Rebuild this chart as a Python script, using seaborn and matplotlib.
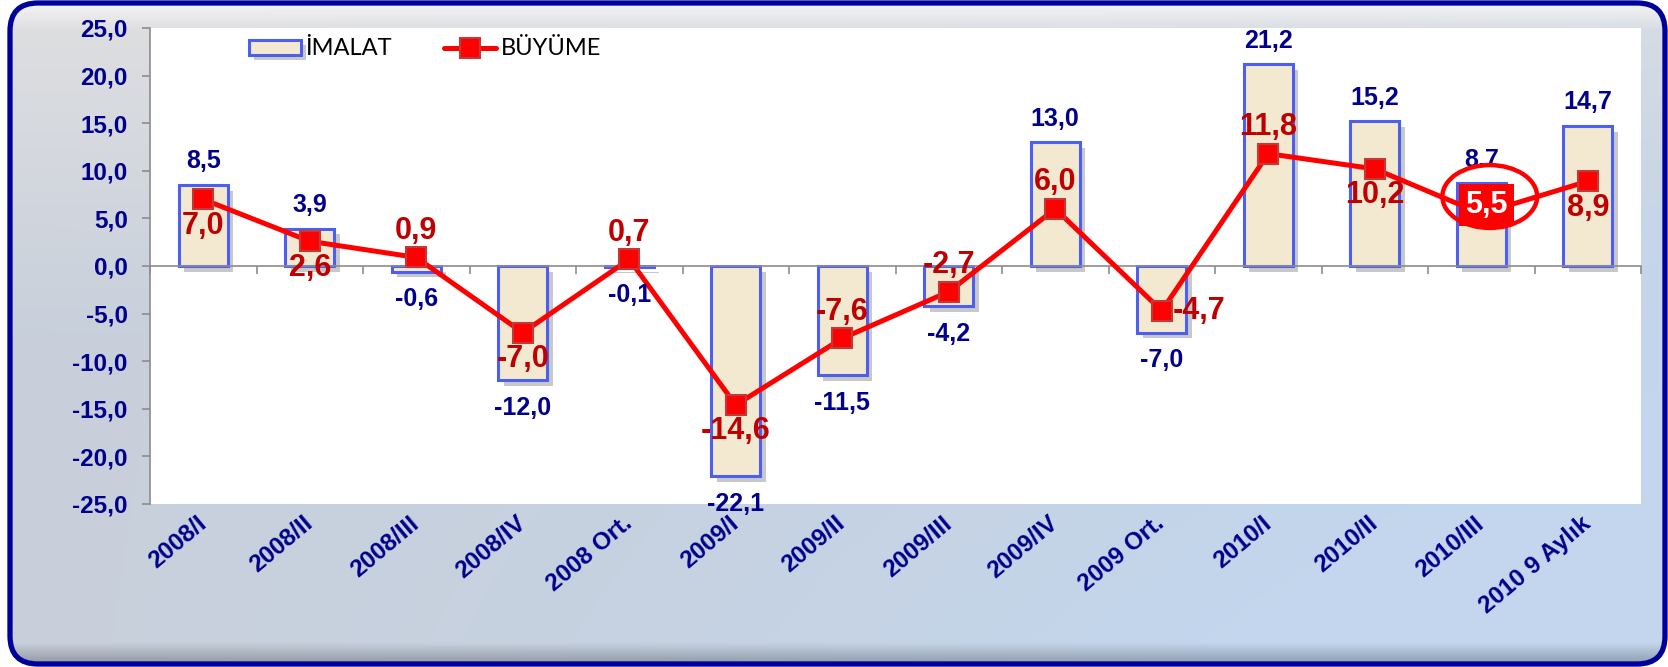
import numpy as np
import matplotlib
matplotlib.use("Agg")
import matplotlib.pyplot as plt
import seaborn as sns
from matplotlib.patches import FancyBboxPatch, Ellipse
from matplotlib import patheffects as pe
from matplotlib.font_manager import FontProperties

# ---------------- data ----------------
categories = ["2008/I", "2008/II", "2008/III", "2008/IV", "2008 Ort.", "2009/I",
              "2009/II", "2009/III", "2009/IV", "2009 Ort.", "2010/I", "2010/II",
              "2010/III", "2010 9 Aylık"]
imalat = [8.5, 3.9, -0.6, -12.0, -0.1, -22.1, -11.5, -4.2, 13.0, -7.0, 21.2, 15.2, 8.7, 14.7]
buyume = [7.0, 2.6, 0.9, -7.0, 0.7, -14.6, -7.6, -2.7, 6.0, -4.7, 11.8, 10.2, 5.5, 8.9]
imalat_labels = ["8,5", "3,9", "-0,6", "-12,0", "-0,1", "-22,1", "-11,5", "-4,2",
                 "13,0", "-7,0", "21,2", "15,2", "8.7", "14,7"]
buyume_labels = ["7,0", "2,6", "0,9", "-7,0", "0,7", "-14,6", "-7,6", "-2,7",
                 "6,0", "-4,7", "11,8", "10,2", "5,5", "8,9"]
yticks = [-25, -20, -15, -10, -5, 0, 5, 10, 15, 20, 25]
ytick_labels = ["-25,0", "-20,0", "-15,0", "-10,0", "-5,0", "0,0", "5,0",
                "10,0", "15,0", "20,0", "25,0"]
series_names = ["İMALAT", "BÜYÜME"]
highlight = "2010/III"

# ---------------- style ----------------
buyume_label_side = ["below", "below", "above", "below", "above", "below", "above",
                     "above", "above", "right", "above", "below", "center", "below"]
NAVY = "#00008c"
DARKRED = "#c00000"
RED = "#ff0000"
BAR_FILL = "#f3e9d1"
BAR_EDGE = "#4d5ff0"
GRAY = "#8c8c8c"

sns.set_theme(style="white")
plt.rcParams["font.family"] = ["Liberation Sans", "DejaVu Sans"]

W, H = 1668, 667
fig = plt.figure(figsize=(W / 100, H / 100), dpi=100)
fig.patch.set_facecolor("white")

# ---------------- background frame ----------------
bg = fig.add_axes([0, 0, 1, 1], zorder=-10)
bg.set_xlim(0, W)
bg.set_ylim(0, H)
bg.axis("off")
gh, gw = 300, 600
yy, xx = np.mgrid[0:1:gh * 1j, 0:1:gw * 1j]  # yy: 0 = top
c_top = np.array([0.875, 0.875, 0.88])
c_mid = np.array([0.785, 0.815, 0.86])
c_br = np.array([0.765, 0.84, 0.93])
t = np.clip(yy / 0.5, 0, 1)[..., None]
img = c_top * (1 - t) + c_mid * t
h = np.clip(xx * (0.4 + yy), 0, 1)[..., None] ** 1.5
img = img * (1 - h) + c_br * h
band = np.clip(1 - yy / 0.045, 0, 1)[..., None]
img = img * (1 - band) + np.array([0.96, 0.96, 0.96]) * band
shade = np.clip((yy - 0.965) / 0.035, 0, 1)[..., None]
img = img * (1 - 0.3 * shade)
im = bg.imshow(img, extent=[0, W, 0, H], aspect="auto", origin="upper", zorder=0)
frame = FancyBboxPatch((10, 3), W - 13, H - 6,
                       boxstyle="round,pad=0,rounding_size=28",
                       fc="none", ec="#00009a", lw=3.8, zorder=2)
bg.add_patch(frame)
im.set_clip_path(frame)

# ---------------- main axes ----------------
ax = fig.add_axes([150 / W, 1 - 504 / H, 1491 / W, 476 / H])
ax.set_facecolor("white")
n = len(categories)
pos = np.arange(n)

sns.barplot(x=categories, y=imalat, color=BAR_FILL, edgecolor=BAR_EDGE, linewidth=2.2,
            width=0.46, saturation=1, ax=ax, label=series_names[0], zorder=2)
for p in ax.patches:
    p.set_path_effects([pe.SimplePatchShadow(offset=(4, -4), shadow_rgbFace="#777777",
                                             alpha=0.4), pe.Normal()])

sns.lineplot(x=pos, y=buyume, color=RED, lw=3.6, marker="s", markersize=14,
             markerfacecolor=RED, markeredgecolor="#c03a3a", markeredgewidth=1.5,
             ax=ax, label=series_names[1], zorder=4)

ax.set_xlim(-0.5, n - 0.5)
ax.set_ylim(yticks[0], yticks[-1])

# axes decoration
for s in ["top", "right"]:
    ax.spines[s].set_visible(False)
ax.spines["bottom"].set_position(("data", 0))
ax.spines["bottom"].set_color(GRAY)
ax.spines["bottom"].set_linewidth(1.2)
ax.spines["left"].set_color(GRAY)
ax.spines["left"].set_linewidth(1.2)
ax.set_xticks(np.arange(-0.5, n, 1), labels=[])
ax.tick_params(axis="x", direction="out", length=6, width=1.2, color=GRAY, bottom=True)
ax.set_yticks(yticks, labels=ytick_labels)
ax.tick_params(axis="y", direction="out", length=6, width=1.2, color=GRAY, left=True,
               labelsize=17.5, labelcolor=NAVY, pad=10)
for lab in ax.get_yticklabels():
    lab.set_fontweight("bold")
ax.set_xlabel("")
ax.set_ylabel("")
ax.grid(False)

sec = ax.secondary_xaxis(0.0)
sec.set_xticks(pos, labels=categories)
sec.tick_params(length=0, pad=12)
sec.spines["bottom"].set_visible(False)
for lab in sec.get_xticklabels():
    lab.set(rotation=40, ha="right", va="center", rotation_mode="anchor",
            fontsize=17.5, fontweight="bold", color=NAVY)

# bar value labels
for i, (v, s) in enumerate(zip(imalat, imalat_labels)):
    ax.annotate(s, (i, v), xytext=(0, 17 if v >= 0 else -20), textcoords="offset points",
                ha="center", va="center", fontsize=18, fontweight="bold", color=NAVY,
                zorder=5)

# line value labels
offsets = {"above": (0, 19), "below": (0, -19), "right": (27, 0), "center": (4, 6)}
for i, (v, s, side) in enumerate(zip(buyume, buyume_labels, buyume_label_side)):
    if side == "center":
        ax.annotate(s, (i, v), xytext=offsets[side], textcoords="offset points",
                    ha="center", va="center", fontsize=22, fontweight="bold",
                    color="white", zorder=8,
                    bbox=dict(boxstyle="square,pad=0.2", fc=RED, ec="none"))
    else:
        ax.annotate(s, (i, v), xytext=offsets[side], textcoords="offset points",
                    ha="center", va="center", fontsize=22, fontweight="bold",
                    color=DARKRED, zorder=6)

# highlight ellipse
hi = categories.index(highlight)
ax.add_patch(Ellipse((hi + 0.08, buyume[hi] + 1.8), width=0.89, height=6.6,
                     fill=False, ec=RED, lw=3.2, zorder=7))

# legend (İMALAT first)
handles, labels = ax.get_legend_handles_labels()
order = [labels.index(nm) for nm in series_names]
ax.legend([handles[k] for k in order], [labels[k] for k in order],
          loc="center left", bbox_to_anchor=(0.052, 0.956), ncol=2,
          frameon=False, prop=FontProperties(family="Lato", size=17),
          handlelength=2.2, handleheight=0.6, columnspacing=2.2, handletextpad=0.2,
          labelcolor="black")

fig.savefig("out.png", dpi=100, facecolor=fig.get_facecolor())
